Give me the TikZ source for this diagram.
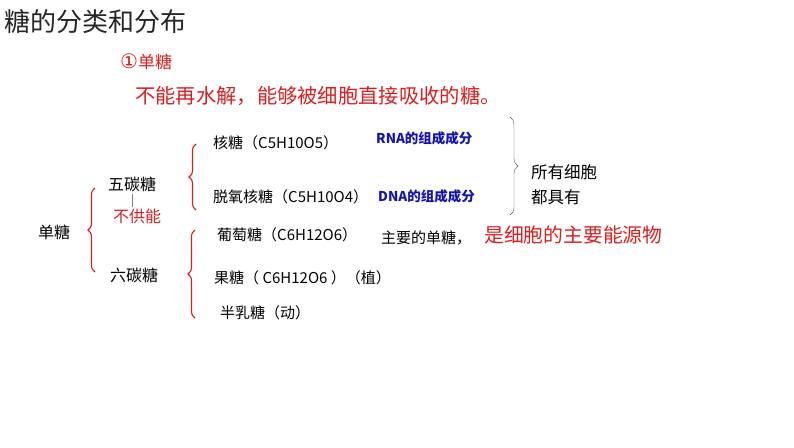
\documentclass[tikz,border=0pt]{standalone}
\usepackage{fontspec}
\setmainfont{Noto Sans CJK SC}
\newfontfamily\symfont{DejaVu Sans}
\usetikzlibrary{decorations.pathreplacing}
\definecolor{myred}{RGB}{220,30,30}
\definecolor{myblue}{RGB}{20,20,180}
\tikzset{
  lbl/.style={anchor=west,inner sep=0pt,font=\fontsize{15}{15}\selectfont},
  rlbl/.style={anchor=west,inner sep=0pt,text=myred},
  blbl/.style={anchor=west,inner sep=0pt,text=myblue,font=\fontsize{13.5}{13.5}\selectfont\bfseries},
  brc/.style={decorate,decoration={brace,amplitude=7pt},line width=1.1pt,draw=myred},
}
\begin{document}
\begin{tikzpicture}[x=1pt,y=-1pt]
\useasboundingbox (0,0) rectangle (794,447);
\node[anchor=west,inner sep=0pt,font=\fontsize{26}{26}\selectfont,text=black!85] (title) at (4,22) {糖的分类和分布};
\node[rlbl,font=\fontsize{17}{17}\selectfont] (one) at (120,62) {{\symfont\fontsize{20}{20}\selectfont ①}单糖};
\node[rlbl,font=\fontsize{20.3}{20.3}\selectfont] (def) at (135,96) {不能再水解，能够被细胞直接吸收的糖。};
\node[lbl] (he) at (213,143) {核糖（C5H10O5）};
\node[blbl] (rna) at (376,138) {RNA的组成成分};
\node[lbl] (tuo) at (213,197) {脱氧核糖（C5H10O4）};
\node[blbl] (dna) at (378,196) {DNA的组成成分};
\node[lbl,font=\fontsize{16}{16}\selectfont] (wu) at (108,184) {五碳糖};
\node[rlbl,font=\fontsize{16}{16}\selectfont] (bu) at (113,216) {不供能};
\draw[gray,thin] (132,194) -- (132,207);
\node[lbl,font=\fontsize{16}{16}\selectfont] (dan) at (38,232) {单糖};
\node[lbl,font=\fontsize{16}{16}\selectfont] (liu) at (110,275) {六碳糖};
\node[lbl] (pu) at (217,235) {葡萄糖（C6H12O6）};
\node[lbl] (zhu) at (381,238) {主要的单糖，};
\node[rlbl,font=\fontsize{19.8}{19.8}\selectfont] (neng) at (484,235) {是细胞的主要能源物};
\node[lbl] (guo) at (214,278) {果糖（ C6H12O6 ）（植）};
\node[lbl] (ban) at (220,313) {半乳糖（动）};
\node[lbl,font=\fontsize{16.5}{16.5}\selectfont] (suo) at (531,172) {所有细胞};
\node[lbl,font=\fontsize{16.5}{16.5}\selectfont] (dou) at (531,197) {都具有};
\draw[brc] (95,272) -- (95,188);
\draw[brc] (196,210) -- (196,144);
\draw[brc] (195,318) -- (195,230);
\draw[decorate,decoration={brace,amplitude=8pt},thin,draw=black!70] (510,117) -- (510,215);
\end{tikzpicture}
\end{document}
